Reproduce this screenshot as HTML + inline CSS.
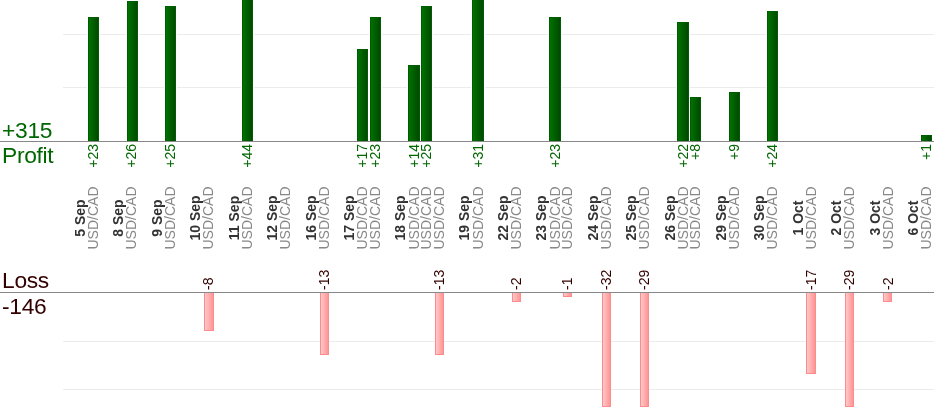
<!DOCTYPE html>
<html><head><meta charset="utf-8"><style>
html,body{margin:0;padding:0;background:#fff;}
body{width:934px;height:420px;position:relative;overflow:hidden;font-family:"Liberation Sans",sans-serif;}
.g{position:absolute;left:63px;right:0;height:1px;background:#ececec;}
.ax{position:absolute;left:0;right:0;height:1px;background:#888;}
.big{position:absolute;left:2px;font-size:22.8px;letter-spacing:-0.3px;line-height:26px;white-space:nowrap;}
.r{position:absolute;width:120px;height:16px;line-height:16px;font-size:14px;white-space:nowrap;text-align:center;transform:rotate(-90deg);}
.d{font-weight:bold;color:#333;}
.u{color:#888;}
.p{color:#006600;text-align:right;}
.l{color:#300;text-align:left;}
.bp{position:absolute;box-sizing:border-box;border:1px solid #005c00;border-bottom:0;background:linear-gradient(to right,#007200,#004a00);box-shadow:1px 0 0 #fff,-1px 0 0 #fff;}
.bl{position:absolute;box-sizing:border-box;border:1px solid #ff8c8c;border-top:0;background:linear-gradient(to right,#ffc8c8,#ff9696);}
</style></head><body><div id="c" style="position:absolute;left:0;top:0;width:934px;height:420px;will-change:transform">
<div class="g" style="top:34px"></div>
<div class="g" style="top:87px"></div>
<div class="g" style="top:341px"></div>
<div class="g" style="top:389px"></div>
<div class="ax" style="top:141px"></div>
<div class="ax" style="top:292px"></div>
<div class="big" style="top:117px;color:#060">+315</div>
<div class="big" style="top:142px;color:#060">Profit</div>
<div class="big" style="top:267px;color:#330000">Loss</div>
<div class="big" style="top:293px;color:#330000">-146</div>
<div class="r d" style="left:19.59px;top:209.5px">5 Sep</div>
<div class="r u" style="left:32.82px;top:209.5px">USD/CAD</div>
<div class="bp" style="left:88px;top:17px;width:11px;height:124px"></div>
<div class="r p" style="left:32.82px;top:195.8px">+23</div>
<div class="r d" style="left:58.09px;top:209.5px">8 Sep</div>
<div class="r u" style="left:71.32px;top:209.5px">USD/CAD</div>
<div class="bp" style="left:127px;top:1px;width:11px;height:140px"></div>
<div class="r p" style="left:71.32px;top:195.8px">+26</div>
<div class="r d" style="left:96.59px;top:209.5px">9 Sep</div>
<div class="r u" style="left:109.82px;top:209.5px">USD/CAD</div>
<div class="bp" style="left:165px;top:6px;width:11px;height:135px"></div>
<div class="r p" style="left:109.82px;top:195.8px">+25</div>
<div class="r d" style="left:135.09px;top:209.5px">10 Sep</div>
<div class="r u" style="left:148.32px;top:209.5px">USD/CAD</div>
<div class="bl" style="left:204px;top:293px;width:10px;height:38px"></div>
<div class="r l" style="left:148.32px;top:221.7px">-8</div>
<div class="r d" style="left:173.59px;top:209.5px">11 Sep</div>
<div class="r u" style="left:186.82px;top:209.5px">USD/CAD</div>
<div class="bp" style="left:242px;top:-30px;width:11px;height:171px"></div>
<div class="r p" style="left:186.82px;top:195.8px">+44</div>
<div class="r d" style="left:212.09px;top:209.5px">12 Sep</div>
<div class="r u" style="left:225.32px;top:209.5px">USD/CAD</div>
<div class="r d" style="left:250.59px;top:209.5px">16 Sep</div>
<div class="r u" style="left:263.82px;top:209.5px">USD/CAD</div>
<div class="bl" style="left:320px;top:293px;width:9px;height:62px"></div>
<div class="r l" style="left:263.82px;top:221.7px">-13</div>
<div class="r d" style="left:289.09px;top:209.5px">17 Sep</div>
<div class="r u" style="left:302.32px;top:209.5px">USD/CAD</div>
<div class="bp" style="left:357px;top:49px;width:11px;height:92px"></div>
<div class="r p" style="left:302.32px;top:195.8px">+17</div>
<div class="r u" style="left:315.05px;top:209.5px">USD/CAD</div>
<div class="bp" style="left:370px;top:17px;width:11px;height:124px"></div>
<div class="r p" style="left:315.05px;top:195.8px">+23</div>
<div class="r d" style="left:340.32px;top:209.5px">18 Sep</div>
<div class="r u" style="left:353.55px;top:209.5px">USD/CAD</div>
<div class="bp" style="left:408px;top:65px;width:12px;height:76px"></div>
<div class="r p" style="left:353.55px;top:195.8px">+14</div>
<div class="r u" style="left:366.28px;top:209.5px">USD/CAD</div>
<div class="bp" style="left:421px;top:6px;width:11px;height:135px"></div>
<div class="r p" style="left:366.28px;top:195.8px">+25</div>
<div class="r u" style="left:379.01px;top:209.5px">USD/CAD</div>
<div class="bl" style="left:435px;top:293px;width:9px;height:62px"></div>
<div class="r l" style="left:379.01px;top:221.7px">-13</div>
<div class="r d" style="left:404.28px;top:209.5px">19 Sep</div>
<div class="r u" style="left:417.51px;top:209.5px">USD/CAD</div>
<div class="bp" style="left:472px;top:-30px;width:12px;height:171px"></div>
<div class="r p" style="left:417.51px;top:195.8px">+31</div>
<div class="r d" style="left:442.78px;top:209.5px">22 Sep</div>
<div class="r u" style="left:456.01px;top:209.5px">USD/CAD</div>
<div class="bl" style="left:512px;top:293px;width:9px;height:9px"></div>
<div class="r l" style="left:456.01px;top:221.7px">-2</div>
<div class="r d" style="left:481.28px;top:209.5px">23 Sep</div>
<div class="r u" style="left:494.51px;top:209.5px">USD/CAD</div>
<div class="bp" style="left:549px;top:17px;width:12px;height:124px"></div>
<div class="r p" style="left:494.51px;top:195.8px">+23</div>
<div class="r u" style="left:507.24px;top:209.5px">USD/CAD</div>
<div class="bl" style="left:563px;top:293px;width:9px;height:4px"></div>
<div class="r l" style="left:507.24px;top:221.7px">-1</div>
<div class="r d" style="left:532.51px;top:209.5px">24 Sep</div>
<div class="r u" style="left:545.74px;top:209.5px">USD/CAD</div>
<div class="bl" style="left:602px;top:293px;width:9px;height:114px"></div>
<div class="r l" style="left:545.74px;top:221.7px">-32</div>
<div class="r d" style="left:571.01px;top:209.5px">25 Sep</div>
<div class="r u" style="left:584.24px;top:209.5px">USD/CAD</div>
<div class="bl" style="left:640px;top:293px;width:9px;height:114px"></div>
<div class="r l" style="left:584.24px;top:221.7px">-29</div>
<div class="r d" style="left:609.51px;top:209.5px">26 Sep</div>
<div class="r u" style="left:622.74px;top:209.5px">USD/CAD</div>
<div class="bp" style="left:677px;top:22px;width:12px;height:119px"></div>
<div class="r p" style="left:622.74px;top:195.8px">+22</div>
<div class="r u" style="left:635.47px;top:209.5px">USD/CAD</div>
<div class="bp" style="left:690px;top:97px;width:11px;height:44px"></div>
<div class="r p" style="left:635.47px;top:195.8px">+8</div>
<div class="r d" style="left:660.74px;top:209.5px">29 Sep</div>
<div class="r u" style="left:673.97px;top:209.5px">USD/CAD</div>
<div class="bp" style="left:729px;top:92px;width:11px;height:49px"></div>
<div class="r p" style="left:673.97px;top:195.8px">+9</div>
<div class="r d" style="left:699.24px;top:209.5px">30 Sep</div>
<div class="r u" style="left:712.47px;top:209.5px">USD/CAD</div>
<div class="bp" style="left:767px;top:11px;width:11px;height:130px"></div>
<div class="r p" style="left:712.47px;top:195.8px">+24</div>
<div class="r d" style="left:737.74px;top:209.5px">1 Oct</div>
<div class="r u" style="left:750.97px;top:209.5px">USD/CAD</div>
<div class="bl" style="left:806px;top:293px;width:10px;height:81px"></div>
<div class="r l" style="left:750.97px;top:221.7px">-17</div>
<div class="r d" style="left:776.24px;top:209.5px">2 Oct</div>
<div class="r u" style="left:789.47px;top:209.5px">USD/CAD</div>
<div class="bl" style="left:845px;top:293px;width:9px;height:114px"></div>
<div class="r l" style="left:789.47px;top:221.7px">-29</div>
<div class="r d" style="left:814.74px;top:209.5px">3 Oct</div>
<div class="r u" style="left:827.97px;top:209.5px">USD/CAD</div>
<div class="bl" style="left:883px;top:293px;width:9px;height:9px"></div>
<div class="r l" style="left:827.97px;top:221.7px">-2</div>
<div class="r d" style="left:853.24px;top:209.5px">6 Oct</div>
<div class="r u" style="left:866.47px;top:209.5px">USD/CAD</div>
<div class="bp" style="left:921px;top:135px;width:11px;height:6px"></div>
<div class="r p" style="left:866.47px;top:195.8px">+1</div>
</div></body></html>
